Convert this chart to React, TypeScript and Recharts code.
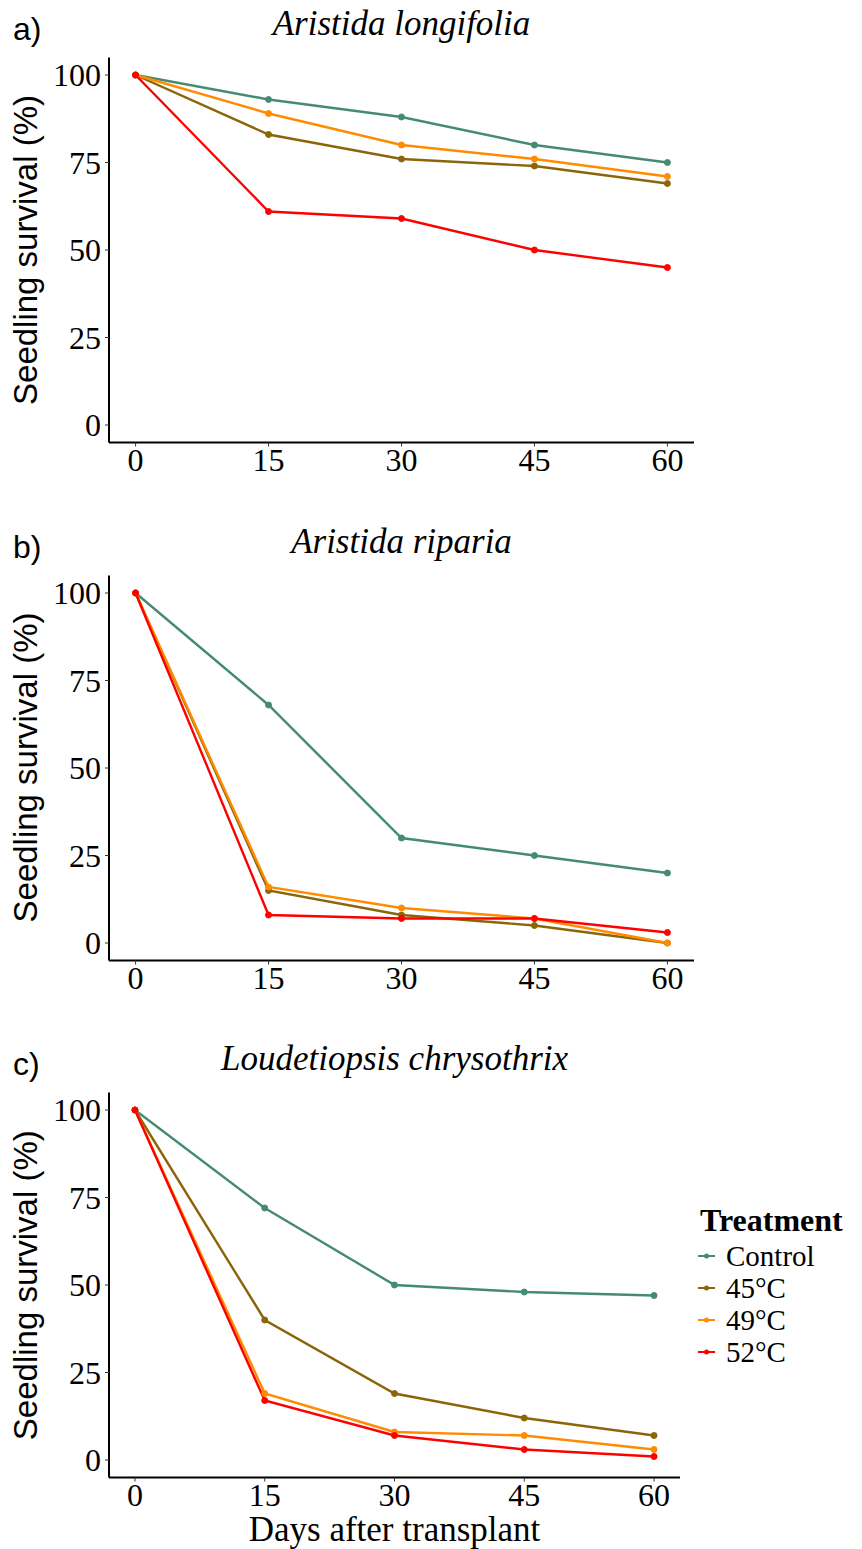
import React from 'react';
import { LineChart, Line, XAxis, YAxis, Legend } from 'recharts';

const days = [0, 15, 30, 45, 60];
const yTicks = [0, 25, 50, 75, 100];
const treatments = ['Control', '45°C', '49°C', '52°C'];
const colors = ['#458B74', '#8B6508', '#FF8C00', '#FF0000'];

// a) Aristida longifolia
const longifoliaControl = [100, 93, 88, 80, 75];
const longifolia45 = [100, 83, 76, 74, 69];
const longifolia49 = [100, 89, 80, 76, 71];
const longifolia52 = [100, 61, 59, 50, 45];

// b) Aristida riparia
const ripariaControl = [100, 68, 30, 25, 20];
const riparia45 = [100, 15, 8, 5, 0];
const riparia49 = [100, 16, 10, 7, 0];
const riparia52 = [100, 8, 7, 7, 3];

// c) Loudetiopsis chrysothrix
const loudControl = [100, 72, 50, 48, 47];
const loud45 = [100, 40, 19, 12, 7];
const loud49 = [100, 19, 8, 7, 3];
const loud52 = [100, 17, 7, 3, 1];

const serif = '"Liberation Serif", "Times New Roman", serif';
const sans = '"Liberation Sans", Arial, sans-serif';

const toRows = (series: number[][]) =>
  days.map((d, i) => {
    const row: any = { day: d };
    series.forEach((s, k) => (row['s' + k] = s[i]));
    return row;
  });

// legend rows, spaced so the labels don't collide
const renderLegend = (props: any) => {
  const items = [...(props.payload || [])].sort(
    (a: any, b: any) => treatments.indexOf(a.value) - treatments.indexOf(b.value)
  );
  return (
    <div style={{ width: 172, fontFamily: serif, color: '#000', whiteSpace: 'nowrap' }}>
      <div style={{ fontWeight: 'bold', fontSize: 32, lineHeight: '32px', height: 32, marginLeft: 10 }}>
        Treatment
      </div>
      <div style={{ marginTop: 3.4 }}>
        {items.map((p: any) => (
          <div
            key={p.value}
            style={{ display: 'flex', alignItems: 'center', height: 32.2, lineHeight: '32.2px', fontSize: 29, paddingLeft: 8 }}
          >
            <svg width={17} height={6} style={{ display: 'block', flex: 'none' }}>
              <line x1={0} x2={17} y1={3} y2={3} stroke={p.color} strokeWidth={2} />
              <circle cx={8.5} cy={3} r={2.5} fill={p.color} />
            </svg>
            <span style={{ marginLeft: 11 }}>{p.value}</span>
          </div>
        ))}
      </div>
    </div>
  );
};

type PanelProps = {
  top: number;
  height: number;
  plotRight: number;
  axisHeight: number;
  series: number[][];
  last?: boolean;
};

const Panel = ({ top, height, plotRight, axisHeight, series, last }: PanelProps) => {
  const data = toRows(series);
  const bottom = height - 57.5 - 385 - axisHeight;
  return (
    <div style={{ position: 'absolute', left: 0, top, width: 862, height }}>
      <LineChart
        width={862}
        height={height}
        data={data}
        margin={{ top: 57.5, left: 49, right: 862 - plotRight, bottom }}
      >
        <XAxis
          dataKey="day"
          type="number"
          domain={[-3, 63]}
          ticks={days}
          interval={0}
          height={axisHeight}
          axisLine={{ stroke: '#000', strokeWidth: 2 }}
          tickLine={{ stroke: '#333', strokeWidth: 1 }}
          tickSize={4}
          tickMargin={2}
          tick={{ fontFamily: serif, fontSize: 32, fill: '#000' }}
          label={
            last
              ? {
                  value: 'Days after transplant',
                  position: 'insideBottom',
                  offset: 6.7,
                  fontFamily: serif,
                  fontSize: 35,
                  fill: '#000',
                }
              : undefined
          }
        />
        <YAxis
          type="number"
          domain={[-5, 105]}
          ticks={yTicks}
          interval={0}
          width={60}
          axisLine={{ stroke: '#000', strokeWidth: 2 }}
          tickLine={{ stroke: '#333', strokeWidth: 1 }}
          tickSize={4}
          tickMargin={4}
          tick={{ fontFamily: serif, fontSize: 32, fill: '#000' }}
        />
        {treatments.map((t, k) => (
          <Line
            key={t}
            name={t}
            dataKey={'s' + k}
            stroke={colors[k]}
            strokeWidth={2.4}
            dot={{ r: 3, fill: colors[k], stroke: colors[k], strokeWidth: 1 }}
            activeDot={false}
            isAnimationActive={false}
          />
        ))}
        {last && (
          <Legend
            layout="vertical"
            align="center"
            verticalAlign="middle"
            content={renderLegend}
            wrapperStyle={{ left: 690, top: 1204.2 - top, width: 172, height: 170 }}
          />
        )}
      </LineChart>
    </div>
  );
};

const panels = [
  { label: 'a)', title: 'Aristida longifolia', top: 0, right: 694 },
  { label: 'b)', title: 'Aristida riparia', top: 517.5, right: 694 },
  { label: 'c)', title: 'Loudetiopsis chrysothrix', top: 1035.2, right: 680 },
];

export default function App() {
  return (
    <div style={{ position: 'absolute', left: 0, top: 0, width: 862, height: 1549, background: '#fff' }}>
      <Panel top={0} height={517} plotRight={694} axisHeight={60}
        series={[longifoliaControl, longifolia45, longifolia49, longifolia52]} />
      <Panel top={517.5} height={517} plotRight={694} axisHeight={60}
        series={[ripariaControl, riparia45, riparia49, riparia52]} />
      <Panel top={1035.2} height={514} plotRight={680} axisHeight={70} last
        series={[loudControl, loud45, loud49, loud52]} />
      <svg width={862} height={1549} style={{ position: 'absolute', left: 0, top: 0, pointerEvents: 'none' }}>
        {panels.map((p) => {
          const cx = (109 + p.right) / 2;
          const cy = p.top + 250;
          return (
            <g key={p.label}>
              <text x={13} y={p.top + 40} fontFamily={sans} fontSize={32} fill="#000">
                {p.label}
              </text>
              <text x={cx} y={p.top + 35} textAnchor="middle" fontFamily={serif} fontStyle="italic" fontSize={35} fill="#000">
                {p.title}
              </text>
              <text x={37} y={cy} transform={`rotate(-90, 37, ${cy})`} textAnchor="middle" fontFamily={sans} fontSize={33} fill="#000">
                Seedling survival (%)
              </text>
            </g>
          );
        })}
      </svg>
    </div>
  );
}
